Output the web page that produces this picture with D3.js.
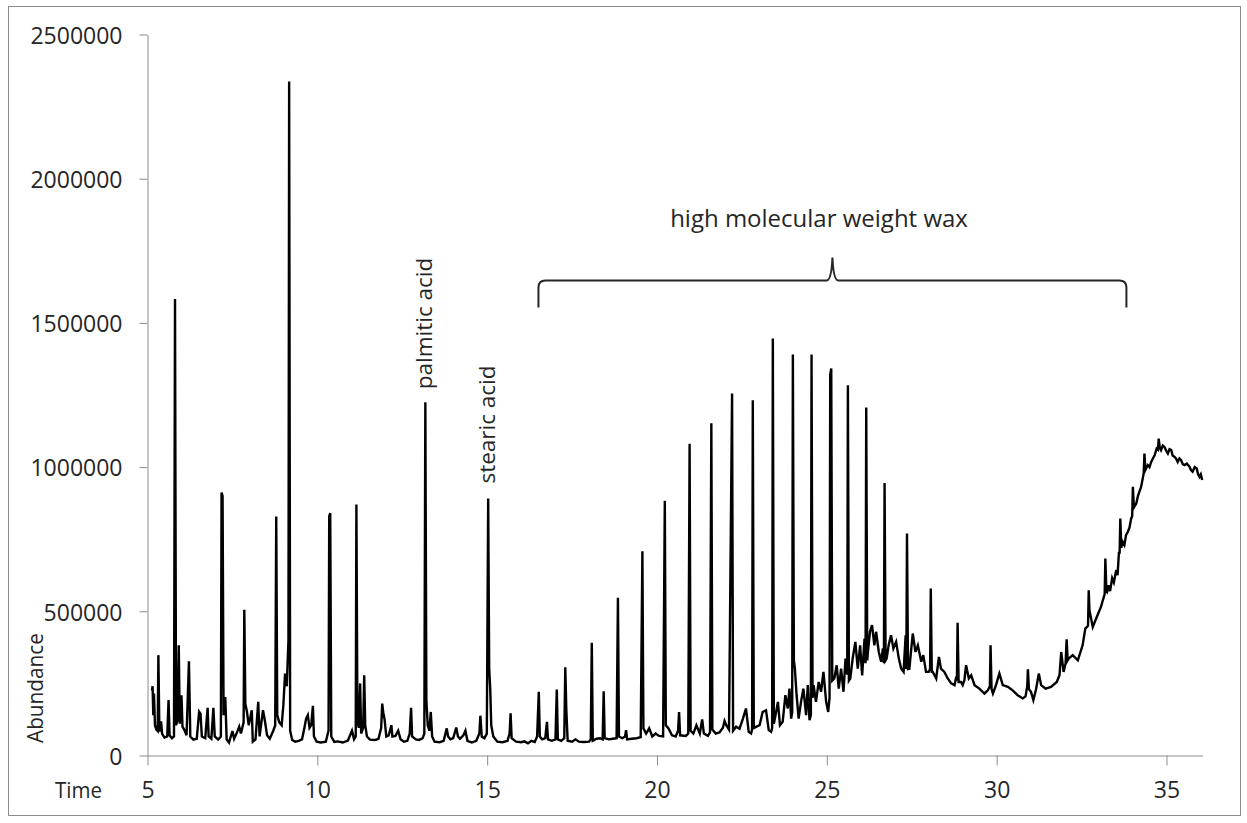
<!DOCTYPE html>
<html>
<head>
<meta charset="utf-8">
<script src="https://cdn.jsdelivr.net/npm/d3@7"></script>
<style>
body { margin: 0; background: #fff; }
text { font-family: "Open Sans", sans-serif; fill: #262626; }
</style>
</head>
<body>
<div id="chart"></div>
<script>
// tick values
const xTicks = [5, 10, 15, 20, 25, 30, 35]
const yTicks = [0, 500000, 1000000, 1500000, 2000000, 2500000]

// chromatogram trace, [time, abundance]
const earlyTrace = [
    [5.13, 225000], [5.15, 240000], [5.17, 140000], [5.19, 215000], [5.22, 105000], [5.26, 90000],
    [5.30, 85000], [5.32, 348000], [5.35, 83000], [5.40, 118000], [5.43, 75000], [5.50, 62000],
    [5.58, 66000], [5.62, 192000], [5.65, 70000], [5.72, 60000], [5.78, 66000], [5.81, 1583000],
    [5.84, 105000], [5.88, 120000], [5.92, 382000], [5.95, 110000], [6.00, 209000], [6.03, 100000],
    [6.08, 90000], [6.15, 70000], [6.22, 327000], [6.26, 66000], [6.35, 55000], [6.45, 58000],
    [6.52, 152000], [6.56, 145000], [6.60, 66000], [6.70, 60000], [6.77, 165000], [6.80, 66000],
    [6.88, 58000], [6.94, 165000], [6.98, 66000], [7.08, 55000], [7.16, 66000], [7.18, 912000],
    [7.21, 900000], [7.24, 140000], [7.29, 203000], [7.33, 56000], [7.40, 45000], [7.50, 85000],
    [7.55, 58000], [7.62, 76000], [7.70, 100000], [7.75, 76000], [7.83, 115000], [7.85, 505000],
    [7.88, 180000], [7.93, 150000], [7.98, 105000], [8.07, 157000], [8.10, 48000], [8.18, 56000],
    [8.26, 186000], [8.30, 66000], [8.40, 157000], [8.45, 125000], [8.52, 70000], [8.60, 58000],
    [8.70, 85000], [8.76, 105000], [8.79, 829000], [8.82, 140000], [8.88, 115000], [8.95, 105000],
    [9.00, 175000], [9.05, 284000], [9.10, 240000], [9.15, 400000], [9.17, 2337000], [9.20, 86000],
    [9.26, 54000], [9.35, 48000], [9.45, 51000], [9.55, 56000], [9.62, 96000], [9.67, 128000],
    [9.72, 140000], [9.77, 96000], [9.82, 105000], [9.87, 172000], [9.90, 66000], [9.98, 48000],
    [10.10, 45000], [10.25, 48000], [10.33, 86000], [10.35, 830000], [10.38, 840000], [10.41, 66000],
    [10.50, 47000]
]

const midTrace = [
    [10.60, 49000], [10.75, 45000], [10.90, 52000], [11.02, 86000], [11.08, 56000], [11.13, 66000],
    [11.15, 870000], [11.18, 120000], [11.22, 96000], [11.26, 250000], [11.29, 76000], [11.35, 96000],
    [11.38, 278000], [11.41, 105000], [11.46, 66000], [11.55, 55000], [11.70, 54000], [11.80, 58000],
    [11.88, 96000], [11.91, 180000], [11.94, 150000], [11.98, 125000], [12.03, 66000], [12.10, 70000],
    [12.18, 105000], [12.21, 66000], [12.30, 68000], [12.38, 86000], [12.45, 56000], [12.55, 48000],
    [12.65, 51000], [12.72, 76000], [12.76, 165000], [12.79, 66000], [12.90, 56000], [13.00, 54000],
    [13.10, 60000], [13.15, 76000], [13.18, 1225000], [13.21, 192000], [13.25, 105000], [13.30, 86000],
    [13.34, 151000], [13.38, 66000], [13.45, 48000], [13.60, 46000], [13.72, 51000], [13.81, 94000],
    [13.85, 66000], [13.92, 56000], [14.00, 60000], [14.09, 97000], [14.14, 66000], [14.20, 58000],
    [14.30, 70000], [14.36, 86000], [14.42, 51000], [14.55, 45000], [14.68, 51000], [14.77, 76000],
    [14.80, 138000], [14.84, 66000], [14.92, 60000], [14.99, 76000], [15.03, 891000], [15.06, 300000],
    [15.09, 232000], [15.12, 105000], [15.18, 66000], [15.30, 48000], [15.45, 46000], [15.60, 51000],
    [15.66, 76000], [15.69, 146000], [15.72, 60000], [15.85, 48000], [16.00, 46000]
]

const waxTrace = [
    [16.10, 49000], [16.20, 42000], [16.30, 51000], [16.40, 47000], [16.47, 66000], [16.52, 221000],
    [16.55, 66000], [16.62, 56000], [16.71, 60000], [16.76, 117000], [16.79, 56000], [16.90, 51000],
    [17.01, 56000], [17.05, 229000], [17.08, 56000], [17.18, 51000], [17.27, 60000], [17.30, 306000],
    [17.33, 160000], [17.37, 51000], [17.50, 48000], [17.60, 56000], [17.70, 48000], [17.85, 47000],
    [18.00, 48000], [18.05, 56000], [18.08, 391000], [18.11, 51000], [18.22, 58000], [18.32, 60000],
    [18.40, 56000], [18.43, 223000], [18.46, 60000], [18.58, 56000], [18.70, 58000], [18.81, 60000],
    [18.85, 547000], [18.88, 66000], [18.98, 60000], [19.06, 66000], [19.09, 88000], [19.12, 56000],
    [19.25, 58000], [19.40, 60000], [19.52, 64000], [19.57, 708000], [19.60, 94000], [19.68, 76000],
    [19.77, 94000], [19.86, 66000], [19.96, 76000], [20.06, 68000], [20.18, 66000], [20.23, 883000],
    [20.26, 105000], [20.34, 94000], [20.44, 70000], [20.55, 66000], [20.62, 86000], [20.65, 151000],
    [20.68, 70000], [20.85, 68000], [20.92, 76000], [20.96, 1081000], [20.99, 86000], [21.07, 76000],
    [21.16, 105000], [21.26, 76000], [21.33, 125000], [21.38, 76000], [21.50, 68000], [21.56, 80000],
    [21.60, 1152000], [21.63, 90000], [21.73, 76000], [21.84, 80000], [21.94, 96000], [21.99, 120000],
    [22.04, 105000], [22.12, 90000], [22.21, 1255000], [22.24, 86000], [22.33, 100000]
]

const humpTrace = [
    [22.43, 93000], [22.53, 128000], [22.62, 163000], [22.70, 82000], [22.77, 76000], [22.80, 90000],
    [22.82, 1232000], [22.85, 95000], [22.93, 100000], [23.02, 105000], [23.11, 151000], [23.21, 157000],
    [23.29, 88000], [23.36, 82000], [23.39, 95000], [23.41, 1446000], [23.44, 110000], [23.49, 140000],
    [23.56, 186000], [23.62, 105000], [23.70, 117000], [23.78, 209000], [23.85, 163000], [23.90, 232000],
    [23.95, 128000], [23.98, 150000], [24.00, 1390000], [24.03, 330000], [24.06, 300000], [24.11, 209000],
    [24.17, 128000], [24.24, 186000], [24.31, 232000], [24.39, 140000], [24.44, 244000], [24.49, 122000],
    [24.53, 140000], [24.55, 1390000], [24.58, 200000], [24.61, 244000], [24.68, 186000], [24.76, 255000],
    [24.83, 221000], [24.90, 290000], [24.98, 186000], [25.04, 151000], [25.08, 200000], [25.10, 1320000],
    [25.13, 1342000], [25.16, 260000], [25.22, 267000], [25.29, 313000], [25.35, 232000], [25.42, 301000],
    [25.49, 221000], [25.55, 336000], [25.60, 280000], [25.62, 1284000], [25.65, 260000], [25.69, 267000],
    [25.76, 336000], [25.84, 394000], [25.91, 301000], [25.98, 382000], [26.04, 278000], [26.11, 405000],
    [26.14, 320000], [26.16, 1207000], [26.19, 330000], [26.21, 359000], [26.27, 429000], [26.33, 452000],
    [26.40, 382000], [26.45, 429000], [26.53, 359000], [26.60, 325000], [26.65, 371000], [26.68, 320000],
    [26.70, 945000], [26.73, 330000], [26.76, 336000], [26.82, 382000], [26.89, 417000], [26.96, 371000],
    [27.04, 394000], [27.12, 336000], [27.19, 301000], [27.26, 290000], [27.32, 417000], [27.34, 300000],
    [27.36, 770000], [27.39, 300000], [27.43, 301000], [27.53, 423000], [27.61, 359000], [27.68, 382000],
    [27.78, 325000], [27.84, 348000], [27.92, 290000], [28.00, 290000], [28.04, 300000], [28.06, 579000],
    [28.09, 290000], [28.12, 290000], [28.22, 267000], [28.30, 342000], [28.36, 301000], [28.46, 290000],
    [28.56, 267000], [28.66, 250000], [28.76, 244000], [28.81, 273000], [28.83, 260000], [28.85, 460000],
    [28.88, 255000]
]

const lateTrace = [
    [28.95, 255000], [29.00, 244000], [29.05, 261000], [29.10, 313000], [29.18, 267000], [29.25, 278000],
    [29.35, 244000], [29.49, 232000], [29.64, 215000], [29.74, 226000], [29.80, 240000], [29.82, 382000],
    [29.85, 230000], [29.89, 215000], [29.98, 244000], [30.08, 284000], [30.18, 244000], [30.33, 238000],
    [30.47, 226000], [30.62, 209000], [30.77, 198000], [30.85, 205000], [30.90, 240000], [30.92, 299000],
    [30.95, 230000], [31.01, 221000], [31.08, 192000], [31.16, 230000], [31.24, 284000], [31.31, 244000],
    [31.44, 232000], [31.60, 238000], [31.77, 255000], [31.85, 278000], [31.90, 359000], [31.97, 290000],
    [32.03, 320000], [32.06, 403000], [32.09, 330000], [32.12, 336000], [32.24, 348000], [32.39, 330000],
    [32.53, 382000], [32.61, 440000], [32.69, 450000], [32.71, 573000], [32.74, 480000], [32.76, 487000],
    [32.83, 446000], [32.95, 481000], [33.07, 515000], [33.14, 544000], [33.18, 560000], [33.20, 683000],
    [33.23, 570000], [33.25, 567000], [33.30, 590000], [33.34, 570000], [33.40, 615000], [33.45, 600000],
    [33.52, 643000], [33.56, 625000], [33.60, 706000], [33.62, 700000], [33.64, 822000], [33.67, 720000],
    [33.71, 741000], [33.76, 730000], [33.81, 765000], [33.86, 775000], [33.91, 790000], [33.96, 822000],
    [33.99, 830000], [34.01, 932000], [34.04, 860000], [34.11, 874000], [34.16, 900000], [34.20, 914000],
    [34.25, 930000], [34.30, 960000], [34.33, 980000], [34.35, 1047000], [34.38, 990000], [34.45, 1007000],
    [34.50, 1000000], [34.55, 1018000], [34.60, 1030000], [34.65, 1041000], [34.71, 1064000], [34.75, 1060000],
    [34.77, 1099000], [34.80, 1070000], [34.84, 1059000], [34.89, 1075000], [34.94, 1070000], [35.00, 1055000],
    [35.04, 1047000], [35.09, 1062000], [35.14, 1059000], [35.18, 1040000], [35.23, 1036000], [35.28, 1030000],
    [35.33, 1018000], [35.38, 1030000], [35.43, 1024000], [35.48, 1010000], [35.53, 1007000], [35.60, 1012000],
    [35.68, 1001000], [35.72, 990000], [35.77, 984000], [35.83, 1000000], [35.89, 995000], [35.93, 975000],
    [35.97, 966000], [36.01, 975000], [36.05, 955000]
]

// annotations: label, time, abundance where the text starts
const peakLabels = [
    {label: "palmitic acid", time: 13.18, value: 1270000},
    {label: "stearic acid", time: 15.03, value: 943000}
]
const waxRange = [16.51, 33.82]
const waxLabel = "high molecular weight wax"

const trace = earlyTrace.concat(midTrace, waxTrace, humpTrace, lateTrace)

const width = 1247
const height = 823
const x = d3.scaleLinear()
    .domain([5, 36.06])
    .range([147.5, 1202.5])
const y = d3.scaleLinear()
    .domain([0, 2500000])
    .range([755.5, 34.5])

const svg = d3.select("#chart").append("svg")
    .attr("width", width)
    .attr("height", height)

// outer frame
svg.append("rect")
    .attr("x", 8.5).attr("y", 6.5)
    .attr("width", 1232).attr("height", 809)
    .attr("fill", "none")
    .attr("stroke", "#8c8c8c")

// y axis
const yAxis = svg.append("g")
    .attr("transform", "translate(" + x(5) + ",0)")
    .call(d3.axisLeft(y).tickValues(yTicks).tickSize(8).tickSizeOuter(0).tickPadding(17).tickFormat(d3.format("d")))
yAxis.selectAll("text")
    .style("font-size", "23px")
    .attr("dy", "0.38em")
    .attr("fill", "#333")

// x axis
const xAxis = svg.append("g")
    .attr("transform", "translate(0," + y(0) + ")")
    .call(d3.axisBottom(x).tickValues(xTicks).tickSize(10).tickSizeOuter(0).tickPadding(16).tickFormat(d3.format("d")))
xAxis.selectAll("text")
    .style("font-size", "23px")
    .attr("fill", "#333")

svg.selectAll(".domain, .tick line")
    .attr("stroke", "#8c8c8c")
    .attr("stroke-width", 1)

// axis titles
svg.append("text")
    .attr("x", 55).attr("y", 798)
    .attr("textLength", 47)
    .attr("lengthAdjust", "spacingAndGlyphs")
    .style("font-size", "21px")
    .text("Time")

svg.append("text")
    .attr("transform", "translate(43,688) rotate(-90)")
    .attr("text-anchor", "middle")
    .attr("textLength", 110)
    .attr("lengthAdjust", "spacingAndGlyphs")
    .style("font-size", "21px")
    .text("Abundance")

// the trace
const line = d3.line()
    .x(d => x(d[0]))
    .y(d => y(d[1]))

svg.append("path")
    .datum(trace)
    .attr("d", line)
    .attr("fill", "none")
    .attr("stroke", "#000")
    .attr("stroke-width", 2.4)
    .attr("stroke-linejoin", "miter")
    .attr("stroke-miterlimit", 4)

// peak labels, rotated
svg.selectAll(".peak-label")
    .data(peakLabels)
    .enter()
    .append("text")
    .attr("class", "peak-label")
    .attr("transform", d => "translate(" + (x(d.time) + 7) + "," + y(d.value) + ") rotate(-90)")
    .style("font-size", "22.5px")
    .text(d => d.label)

// curly brace over the wax region
const bx0 = x(waxRange[0])
const bx1 = x(waxRange[1])
const bxm = (bx0 + bx1) / 2
const by = y(1647000)
const byEnd = y(1553000)
const byTip = y(1727000)
svg.append("path")
    .attr("d", "M" + bx0 + "," + byEnd +
        " L" + bx0 + "," + (by + 7) +
        " Q" + bx0 + "," + by + " " + (bx0 + 7) + "," + by +
        " L" + (bxm - 6) + "," + by +
        " Q" + (bxm - 1) + "," + by + " " + bxm + "," + byTip +
        " Q" + (bxm + 1) + "," + by + " " + (bxm + 6) + "," + by +
        " L" + (bx1 - 7) + "," + by +
        " Q" + bx1 + "," + by + " " + bx1 + "," + (by + 7) +
        " L" + bx1 + "," + byEnd)
    .attr("fill", "none")
    .attr("stroke", "#262626")
    .attr("stroke-width", 2)

svg.append("text")
    .attr("x", x(24.77))
    .attr("y", y(1832000))
    .attr("text-anchor", "middle")
    .style("font-size", "24px")
    .text(waxLabel)
</script>
</body>
</html>
